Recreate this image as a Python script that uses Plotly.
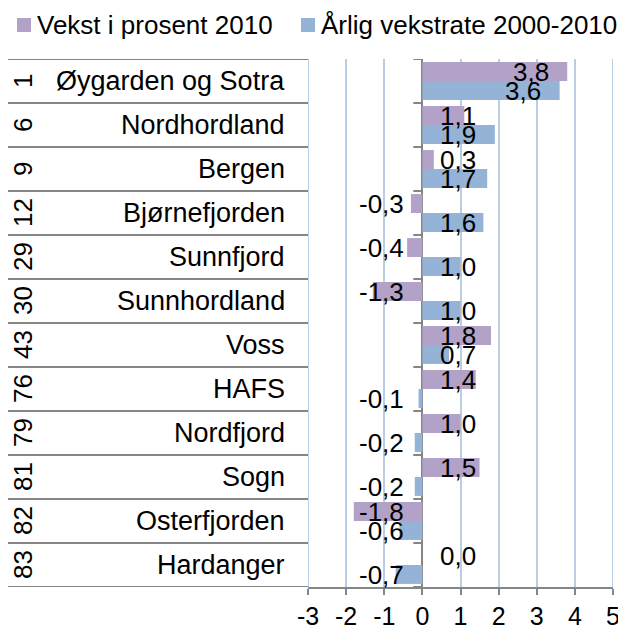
import plotly.graph_objects as go

ranks = ["1", "6", "9", "12", "29", "30", "43", "76", "79", "81", "82", "83"]
regions = ["Øygarden og Sotra", "Nordhordland", "Bergen", "Bjørnefjorden", "Sunnfjord",
           "Sunnhordland", "Voss", "HAFS", "Nordfjord", "Sogn", "Osterfjorden", "Hardanger"]
vekst_2010 = [3.8, 1.1, 0.3, -0.3, -0.4, -1.3, 1.8, 1.4, 1.0, 1.5, -1.8, 0.0]
aarlig_2000_2010 = [3.6, 1.9, 1.7, 1.6, 1.0, 1.0, 0.7, -0.1, -0.2, -0.2, -0.6, -0.7]
series_names = ["Vekst i prosent 2010", "Årlig vekstrate 2000-2010"]
x_ticks = [-3, -2, -1, 0, 1, 2, 3, 4, 5]

PURPLE = "#B3A2C7"
BLUE = "#95B3D7"
GRID = "#B9CDE5"
AXIS = "#868686"
FONT = "Liberation Sans, Arial, sans-serif"
FS = 26

# the page body adds an 8px margin; layout below is expressed in window pixels
OFF = 8
W, H = 626, 629
PLOT_L, PLOT_R, PLOT_T, PLOT_B = 308, 613, 59, 587
ML, MR, MT, MB = PLOT_L - OFF, W - (PLOT_R - OFF), PLOT_T - OFF, H - (PLOT_B - OFF)
PW, PH = W - ML - MR, H - MT - MB


def px(x):
    return (x - OFF - ML) / PW


def py(y):
    return (H - MB - (y - OFF)) / PH


fig = go.Figure()
fig.add_trace(go.Bar(y=regions, x=vekst_2010, orientation="h", name=series_names[0],
                     marker=dict(color=PURPLE, line=dict(width=0))))
fig.add_trace(go.Bar(y=regions, x=aarlig_2000_2010, orientation="h", name=series_names[1],
                     marker=dict(color=BLUE, line=dict(width=0))))


def fmt(v):
    return f"{v:.1f}".replace(".", ",")


annotations = []
for series, shift in ((vekst_2010, 9.5), (aarlig_2000_2010, -9.5)):
    for reg, v in zip(regions, series):
        if v >= 3:
            ax_x, anchor = v - 0.43, "right"
        elif v >= 0:
            ax_x, anchor = 0.42, "left"
        else:
            ax_x, anchor = -0.42, "right"
        annotations.append(dict(x=ax_x, y=reg, xref="x", yref="y", text=fmt(v),
                                showarrow=False, xanchor=anchor, yanchor="middle",
                                yshift=shift, font=dict(size=FS, color="black", family=FONT)))

for reg, rk in zip(regions, ranks):
    annotations.append(dict(x=px(287), y=reg, xref="paper", yref="y", text=reg, showarrow=False,
                            xanchor="right", yanchor="middle",
                            font=dict(size=FS + 1, color="black", family=FONT)))
    annotations.append(dict(x=px(23), y=reg, xref="paper", yref="y", text=rk, showarrow=False,
                            textangle=-90, xanchor="center", yanchor="middle",
                            font=dict(size=FS, color="black", family=FONT)))

shapes = []
n = len(regions)
for edge in (x_ticks[0], x_ticks[-1]):
    shapes.append(dict(type="line", xref="x", yref="paper", x0=edge, x1=edge, y0=0, y1=1,
                       layer="below", line=dict(color=GRID, width=2)))
for i in range(n + 1):
    shapes.append(dict(type="line", xref="paper", yref="y", x0=px(2), x1=0,
                       y0=i - 0.5, y1=i - 0.5, line=dict(color=AXIS, width=2)))
    shapes.append(dict(type="line", xref="x", yref="y", x0=-0.24, x1=0,
                       y0=i - 0.5, y1=i - 0.5, line=dict(color=AXIS, width=2)))

# legend drawn manually (keeps it on one line like the original)
legend_items = [(series_names[0], PURPLE, 17), (series_names[1], BLUE, 301)]
for name, col, x0 in legend_items:
    shapes.append(dict(type="rect", xref="paper", yref="paper", x0=px(x0), x1=px(x0 + 14),
                       y0=py(32), y1=py(18), fillcolor=col, line=dict(width=0)))
    annotations.append(dict(x=px(x0 + 18), y=py(25), xref="paper", yref="paper", text=name,
                            showarrow=False, xanchor="left", yanchor="middle",
                            font=dict(size=FS, color="black", family=FONT)))

fig.update_layout(
    width=W, height=H,
    margin=dict(l=ML, r=MR, t=MT, b=MB, autoexpand=False),
    paper_bgcolor="white", plot_bgcolor="white",
    barmode="group", bargap=0.14, bargroupgap=0,
    font=dict(family=FONT, size=FS, color="black"),
    showlegend=False,
    annotations=annotations,
    shapes=shapes,
)
fig.update_xaxes(range=[-3, 5], tickvals=x_ticks, ticktext=[str(t) for t in x_ticks],
                 showgrid=True, gridcolor=GRID, gridwidth=2,
                 zeroline=True, zerolinecolor=AXIS, zerolinewidth=2,
                 showline=True, linecolor=AXIS, linewidth=2,
                 ticks="outside", ticklen=6, tickcolor=AXIS, tickwidth=2,
                 tickfont=dict(size=FS - 1, family=FONT, color="black"), fixedrange=True)
fig.update_yaxes(range=[n - 0.5, -0.5], showticklabels=False, showgrid=False,
                 zeroline=False, showline=False, ticks="", fixedrange=True)

fig.write_html("out.html")
